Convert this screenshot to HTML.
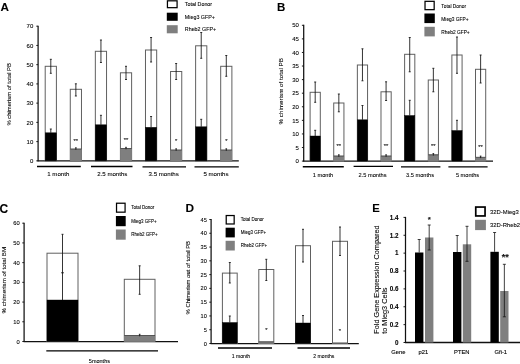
<!DOCTYPE html>
<html><head><meta charset="utf-8"><title>Figure</title>
<style>
html,body{margin:0;padding:0;background:#fff;}
body{width:520px;height:364px;overflow:hidden;font-family:"Liberation Sans",sans-serif;}
svg{display:block;font-family:"Liberation Sans",sans-serif;filter:blur(0.3px);}
</style></head>
<body>
<svg width="520" height="364" viewBox="0 0 520 364">
<rect x="0" y="0" width="520" height="364" fill="#fff"/>
<line x1="38.10" y1="25.70" x2="38.10" y2="161.35" stroke="#111" stroke-width="1.25"/>
<line x1="36.30" y1="160.85" x2="38.10" y2="160.85" stroke="#111" stroke-width="0.95"/>
<line x1="36.30" y1="141.61" x2="38.10" y2="141.61" stroke="#111" stroke-width="0.95"/>
<line x1="36.30" y1="122.38" x2="38.10" y2="122.38" stroke="#111" stroke-width="0.95"/>
<line x1="36.30" y1="103.14" x2="38.10" y2="103.14" stroke="#111" stroke-width="0.95"/>
<line x1="36.30" y1="83.91" x2="38.10" y2="83.91" stroke="#111" stroke-width="0.95"/>
<line x1="36.30" y1="64.67" x2="38.10" y2="64.67" stroke="#111" stroke-width="0.95"/>
<line x1="36.30" y1="45.44" x2="38.10" y2="45.44" stroke="#111" stroke-width="0.95"/>
<line x1="36.30" y1="26.20" x2="38.10" y2="26.20" stroke="#111" stroke-width="0.95"/>
<line x1="37.60" y1="160.85" x2="238.80" y2="160.85" stroke="#111" stroke-width="1.3"/>
<rect x="45.20" y="66.30" width="11.20" height="94.55" fill="#fff" stroke="#606060" stroke-width="1.0"/>
<rect x="45.20" y="132.80" width="11.20" height="28.05" fill="#000" stroke="#000" stroke-width="0.4"/>
<line x1="50.80" y1="59.30" x2="50.80" y2="73.30" stroke="#111" stroke-width="0.85"/>
<line x1="49.80" y1="59.30" x2="51.80" y2="59.30" stroke="#111" stroke-width="0.85"/>
<line x1="49.80" y1="73.30" x2="51.80" y2="73.30" stroke="#111" stroke-width="0.85"/>
<line x1="50.80" y1="129.00" x2="50.80" y2="132.80" stroke="#111" stroke-width="0.85"/>
<line x1="49.80" y1="129.00" x2="51.80" y2="129.00" stroke="#111" stroke-width="0.85"/>
<rect x="70.27" y="89.30" width="11.20" height="71.55" fill="#fff" stroke="#606060" stroke-width="1.0"/>
<rect x="70.27" y="149.00" width="11.20" height="11.85" fill="#7f7f7f" stroke="#7f7f7f" stroke-width="0.4"/>
<line x1="70.27" y1="149.00" x2="81.47" y2="149.00" stroke="#333" stroke-width="0.7"/>
<line x1="75.87" y1="83.80" x2="75.87" y2="96.00" stroke="#111" stroke-width="0.85"/>
<line x1="74.87" y1="83.80" x2="76.87" y2="83.80" stroke="#111" stroke-width="0.85"/>
<line x1="74.87" y1="96.00" x2="76.87" y2="96.00" stroke="#111" stroke-width="0.85"/>
<line x1="75.87" y1="147.80" x2="75.87" y2="149.80" stroke="#111" stroke-width="0.85"/>
<line x1="75.07" y1="147.80" x2="76.67" y2="147.80" stroke="#111" stroke-width="0.85"/>
<rect x="95.34" y="51.30" width="11.20" height="109.55" fill="#fff" stroke="#606060" stroke-width="1.0"/>
<rect x="95.34" y="124.80" width="11.20" height="36.05" fill="#000" stroke="#000" stroke-width="0.4"/>
<line x1="100.94" y1="40.00" x2="100.94" y2="62.50" stroke="#111" stroke-width="0.85"/>
<line x1="99.94" y1="40.00" x2="101.94" y2="40.00" stroke="#111" stroke-width="0.85"/>
<line x1="99.94" y1="62.50" x2="101.94" y2="62.50" stroke="#111" stroke-width="0.85"/>
<line x1="100.94" y1="115.30" x2="100.94" y2="124.80" stroke="#111" stroke-width="0.85"/>
<line x1="99.94" y1="115.30" x2="101.94" y2="115.30" stroke="#111" stroke-width="0.85"/>
<rect x="120.41" y="72.80" width="11.20" height="88.05" fill="#fff" stroke="#606060" stroke-width="1.0"/>
<rect x="120.41" y="148.50" width="11.20" height="12.35" fill="#7f7f7f" stroke="#7f7f7f" stroke-width="0.4"/>
<line x1="120.41" y1="148.50" x2="131.61" y2="148.50" stroke="#333" stroke-width="0.7"/>
<line x1="126.01" y1="66.30" x2="126.01" y2="79.50" stroke="#111" stroke-width="0.85"/>
<line x1="125.01" y1="66.30" x2="127.01" y2="66.30" stroke="#111" stroke-width="0.85"/>
<line x1="125.01" y1="79.50" x2="127.01" y2="79.50" stroke="#111" stroke-width="0.85"/>
<line x1="126.01" y1="147.30" x2="126.01" y2="149.30" stroke="#111" stroke-width="0.85"/>
<line x1="125.21" y1="147.30" x2="126.81" y2="147.30" stroke="#111" stroke-width="0.85"/>
<rect x="145.48" y="50.00" width="11.20" height="110.85" fill="#fff" stroke="#606060" stroke-width="1.0"/>
<rect x="145.48" y="127.30" width="11.20" height="33.55" fill="#000" stroke="#000" stroke-width="0.4"/>
<line x1="151.08" y1="37.50" x2="151.08" y2="62.00" stroke="#111" stroke-width="0.85"/>
<line x1="150.08" y1="37.50" x2="152.08" y2="37.50" stroke="#111" stroke-width="0.85"/>
<line x1="150.08" y1="62.00" x2="152.08" y2="62.00" stroke="#111" stroke-width="0.85"/>
<line x1="151.08" y1="116.50" x2="151.08" y2="127.30" stroke="#111" stroke-width="0.85"/>
<line x1="150.08" y1="116.50" x2="152.08" y2="116.50" stroke="#111" stroke-width="0.85"/>
<rect x="170.55" y="71.50" width="11.20" height="89.35" fill="#fff" stroke="#606060" stroke-width="1.0"/>
<rect x="170.55" y="150.00" width="11.20" height="10.85" fill="#7f7f7f" stroke="#7f7f7f" stroke-width="0.4"/>
<line x1="170.55" y1="150.00" x2="181.75" y2="150.00" stroke="#333" stroke-width="0.7"/>
<line x1="176.15" y1="63.50" x2="176.15" y2="79.50" stroke="#111" stroke-width="0.85"/>
<line x1="175.15" y1="63.50" x2="177.15" y2="63.50" stroke="#111" stroke-width="0.85"/>
<line x1="175.15" y1="79.50" x2="177.15" y2="79.50" stroke="#111" stroke-width="0.85"/>
<line x1="176.15" y1="148.80" x2="176.15" y2="150.80" stroke="#111" stroke-width="0.85"/>
<line x1="175.35" y1="148.80" x2="176.95" y2="148.80" stroke="#111" stroke-width="0.85"/>
<rect x="195.62" y="45.80" width="11.20" height="115.05" fill="#fff" stroke="#606060" stroke-width="1.0"/>
<rect x="195.62" y="126.80" width="11.20" height="34.05" fill="#000" stroke="#000" stroke-width="0.4"/>
<line x1="201.22" y1="32.50" x2="201.22" y2="58.30" stroke="#111" stroke-width="0.85"/>
<line x1="200.22" y1="32.50" x2="202.22" y2="32.50" stroke="#111" stroke-width="0.85"/>
<line x1="200.22" y1="58.30" x2="202.22" y2="58.30" stroke="#111" stroke-width="0.85"/>
<line x1="201.22" y1="119.30" x2="201.22" y2="126.80" stroke="#111" stroke-width="0.85"/>
<line x1="200.22" y1="119.30" x2="202.22" y2="119.30" stroke="#111" stroke-width="0.85"/>
<rect x="220.69" y="66.30" width="11.20" height="94.55" fill="#fff" stroke="#606060" stroke-width="1.0"/>
<rect x="220.69" y="150.00" width="11.20" height="10.85" fill="#7f7f7f" stroke="#7f7f7f" stroke-width="0.4"/>
<line x1="220.69" y1="150.00" x2="231.89" y2="150.00" stroke="#333" stroke-width="0.7"/>
<line x1="226.29" y1="55.50" x2="226.29" y2="76.30" stroke="#111" stroke-width="0.85"/>
<line x1="225.29" y1="55.50" x2="227.29" y2="55.50" stroke="#111" stroke-width="0.85"/>
<line x1="225.29" y1="76.30" x2="227.29" y2="76.30" stroke="#111" stroke-width="0.85"/>
<line x1="226.29" y1="148.80" x2="226.29" y2="150.80" stroke="#111" stroke-width="0.85"/>
<line x1="225.49" y1="148.80" x2="227.09" y2="148.80" stroke="#111" stroke-width="0.85"/>
<line x1="37.00" y1="166.50" x2="80.80" y2="166.50" stroke="#000" stroke-width="1.35"/>
<line x1="91.00" y1="166.50" x2="132.50" y2="166.50" stroke="#000" stroke-width="1.35"/>
<line x1="142.50" y1="166.80" x2="186.00" y2="166.80" stroke="#000" stroke-width="1.35"/>
<line x1="194.50" y1="166.80" x2="238.80" y2="166.80" stroke="#000" stroke-width="1.35"/>
<rect x="167.43" y="0.82" width="9.65" height="6.85" fill="#fff" stroke="#000" stroke-width="1.25"/>
<rect x="166.80" y="12.70" width="10.90" height="8.10" fill="#000" stroke="none" stroke-width="0.8"/>
<rect x="166.80" y="25.20" width="10.90" height="8.10" fill="#7f7f7f" stroke="none" stroke-width="0.8"/>
<line x1="303.70" y1="24.80" x2="303.70" y2="161.60" stroke="#111" stroke-width="1.25"/>
<line x1="301.90" y1="161.10" x2="303.70" y2="161.10" stroke="#111" stroke-width="0.95"/>
<line x1="301.90" y1="147.52" x2="303.70" y2="147.52" stroke="#111" stroke-width="0.95"/>
<line x1="301.90" y1="133.94" x2="303.70" y2="133.94" stroke="#111" stroke-width="0.95"/>
<line x1="301.90" y1="120.36" x2="303.70" y2="120.36" stroke="#111" stroke-width="0.95"/>
<line x1="301.90" y1="106.78" x2="303.70" y2="106.78" stroke="#111" stroke-width="0.95"/>
<line x1="301.90" y1="93.20" x2="303.70" y2="93.20" stroke="#111" stroke-width="0.95"/>
<line x1="301.90" y1="79.62" x2="303.70" y2="79.62" stroke="#111" stroke-width="0.95"/>
<line x1="301.90" y1="66.04" x2="303.70" y2="66.04" stroke="#111" stroke-width="0.95"/>
<line x1="301.90" y1="52.46" x2="303.70" y2="52.46" stroke="#111" stroke-width="0.95"/>
<line x1="301.90" y1="38.88" x2="303.70" y2="38.88" stroke="#111" stroke-width="0.95"/>
<line x1="301.90" y1="25.30" x2="303.70" y2="25.30" stroke="#111" stroke-width="0.95"/>
<line x1="303.20" y1="161.10" x2="493.00" y2="161.10" stroke="#111" stroke-width="1.3"/>
<rect x="310.10" y="92.30" width="10.20" height="68.80" fill="#fff" stroke="#606060" stroke-width="1.0"/>
<rect x="310.10" y="136.00" width="10.20" height="25.10" fill="#000" stroke="#000" stroke-width="0.4"/>
<line x1="315.20" y1="82.00" x2="315.20" y2="102.30" stroke="#111" stroke-width="0.85"/>
<line x1="314.20" y1="82.00" x2="316.20" y2="82.00" stroke="#111" stroke-width="0.85"/>
<line x1="314.20" y1="102.30" x2="316.20" y2="102.30" stroke="#111" stroke-width="0.85"/>
<line x1="315.20" y1="130.30" x2="315.20" y2="136.00" stroke="#111" stroke-width="0.85"/>
<line x1="314.20" y1="130.30" x2="316.20" y2="130.30" stroke="#111" stroke-width="0.85"/>
<rect x="333.73" y="103.00" width="10.20" height="58.10" fill="#fff" stroke="#606060" stroke-width="1.0"/>
<rect x="333.73" y="156.00" width="10.20" height="5.10" fill="#7f7f7f" stroke="#7f7f7f" stroke-width="0.4"/>
<line x1="333.73" y1="156.00" x2="343.93" y2="156.00" stroke="#333" stroke-width="0.7"/>
<line x1="338.83" y1="94.00" x2="338.83" y2="111.80" stroke="#111" stroke-width="0.85"/>
<line x1="337.83" y1="94.00" x2="339.83" y2="94.00" stroke="#111" stroke-width="0.85"/>
<line x1="337.83" y1="111.80" x2="339.83" y2="111.80" stroke="#111" stroke-width="0.85"/>
<line x1="338.83" y1="154.80" x2="338.83" y2="156.80" stroke="#111" stroke-width="0.85"/>
<line x1="338.03" y1="154.80" x2="339.63" y2="154.80" stroke="#111" stroke-width="0.85"/>
<rect x="357.36" y="65.00" width="10.20" height="96.10" fill="#fff" stroke="#606060" stroke-width="1.0"/>
<rect x="357.36" y="119.80" width="10.20" height="41.30" fill="#000" stroke="#000" stroke-width="0.4"/>
<line x1="362.46" y1="48.80" x2="362.46" y2="80.80" stroke="#111" stroke-width="0.85"/>
<line x1="361.46" y1="48.80" x2="363.46" y2="48.80" stroke="#111" stroke-width="0.85"/>
<line x1="361.46" y1="80.80" x2="363.46" y2="80.80" stroke="#111" stroke-width="0.85"/>
<line x1="362.46" y1="105.50" x2="362.46" y2="119.80" stroke="#111" stroke-width="0.85"/>
<line x1="361.46" y1="105.50" x2="363.46" y2="105.50" stroke="#111" stroke-width="0.85"/>
<rect x="380.99" y="91.80" width="10.20" height="69.30" fill="#fff" stroke="#606060" stroke-width="1.0"/>
<rect x="380.99" y="156.00" width="10.20" height="5.10" fill="#7f7f7f" stroke="#7f7f7f" stroke-width="0.4"/>
<line x1="380.99" y1="156.00" x2="391.19" y2="156.00" stroke="#333" stroke-width="0.7"/>
<line x1="386.09" y1="81.80" x2="386.09" y2="100.50" stroke="#111" stroke-width="0.85"/>
<line x1="385.09" y1="81.80" x2="387.09" y2="81.80" stroke="#111" stroke-width="0.85"/>
<line x1="385.09" y1="100.50" x2="387.09" y2="100.50" stroke="#111" stroke-width="0.85"/>
<line x1="386.09" y1="154.80" x2="386.09" y2="156.80" stroke="#111" stroke-width="0.85"/>
<line x1="385.29" y1="154.80" x2="386.89" y2="154.80" stroke="#111" stroke-width="0.85"/>
<rect x="404.62" y="54.30" width="10.20" height="106.80" fill="#fff" stroke="#606060" stroke-width="1.0"/>
<rect x="404.62" y="115.50" width="10.20" height="45.60" fill="#000" stroke="#000" stroke-width="0.4"/>
<line x1="409.72" y1="37.50" x2="409.72" y2="71.80" stroke="#111" stroke-width="0.85"/>
<line x1="408.72" y1="37.50" x2="410.72" y2="37.50" stroke="#111" stroke-width="0.85"/>
<line x1="408.72" y1="71.80" x2="410.72" y2="71.80" stroke="#111" stroke-width="0.85"/>
<line x1="409.72" y1="100.30" x2="409.72" y2="115.50" stroke="#111" stroke-width="0.85"/>
<line x1="408.72" y1="100.30" x2="410.72" y2="100.30" stroke="#111" stroke-width="0.85"/>
<rect x="428.25" y="80.00" width="10.20" height="81.10" fill="#fff" stroke="#606060" stroke-width="1.0"/>
<rect x="428.25" y="154.80" width="10.20" height="6.30" fill="#7f7f7f" stroke="#7f7f7f" stroke-width="0.4"/>
<line x1="428.25" y1="154.80" x2="438.45" y2="154.80" stroke="#333" stroke-width="0.7"/>
<line x1="433.35" y1="68.30" x2="433.35" y2="91.80" stroke="#111" stroke-width="0.85"/>
<line x1="432.35" y1="68.30" x2="434.35" y2="68.30" stroke="#111" stroke-width="0.85"/>
<line x1="432.35" y1="91.80" x2="434.35" y2="91.80" stroke="#111" stroke-width="0.85"/>
<line x1="433.35" y1="153.60" x2="433.35" y2="155.60" stroke="#111" stroke-width="0.85"/>
<line x1="432.55" y1="153.60" x2="434.15" y2="153.60" stroke="#111" stroke-width="0.85"/>
<rect x="451.88" y="55.00" width="10.20" height="106.10" fill="#fff" stroke="#606060" stroke-width="1.0"/>
<rect x="451.88" y="130.50" width="10.20" height="30.60" fill="#000" stroke="#000" stroke-width="0.4"/>
<line x1="456.98" y1="37.00" x2="456.98" y2="73.30" stroke="#111" stroke-width="0.85"/>
<line x1="455.98" y1="37.00" x2="457.98" y2="37.00" stroke="#111" stroke-width="0.85"/>
<line x1="455.98" y1="73.30" x2="457.98" y2="73.30" stroke="#111" stroke-width="0.85"/>
<line x1="456.98" y1="120.30" x2="456.98" y2="130.50" stroke="#111" stroke-width="0.85"/>
<line x1="455.98" y1="120.30" x2="457.98" y2="120.30" stroke="#111" stroke-width="0.85"/>
<rect x="475.51" y="69.30" width="10.20" height="91.80" fill="#fff" stroke="#606060" stroke-width="1.0"/>
<rect x="475.51" y="157.30" width="10.20" height="3.80" fill="#7f7f7f" stroke="#7f7f7f" stroke-width="0.4"/>
<line x1="475.51" y1="157.30" x2="485.71" y2="157.30" stroke="#333" stroke-width="0.7"/>
<line x1="480.61" y1="55.00" x2="480.61" y2="83.00" stroke="#111" stroke-width="0.85"/>
<line x1="479.61" y1="55.00" x2="481.61" y2="55.00" stroke="#111" stroke-width="0.85"/>
<line x1="479.61" y1="83.00" x2="481.61" y2="83.00" stroke="#111" stroke-width="0.85"/>
<line x1="480.61" y1="156.10" x2="480.61" y2="158.10" stroke="#111" stroke-width="0.85"/>
<line x1="479.81" y1="156.10" x2="481.41" y2="156.10" stroke="#111" stroke-width="0.85"/>
<line x1="302.80" y1="166.70" x2="343.80" y2="166.70" stroke="#000" stroke-width="1.35"/>
<line x1="353.60" y1="166.40" x2="393.00" y2="166.40" stroke="#000" stroke-width="1.35"/>
<line x1="401.00" y1="166.90" x2="440.40" y2="166.90" stroke="#000" stroke-width="1.35"/>
<line x1="448.40" y1="166.90" x2="487.60" y2="166.90" stroke="#000" stroke-width="1.35"/>
<rect x="425.02" y="1.32" width="9.15" height="8.35" fill="#fff" stroke="#000" stroke-width="1.25"/>
<rect x="424.40" y="13.50" width="10.40" height="9.60" fill="#000" stroke="none" stroke-width="0.8"/>
<rect x="424.40" y="26.80" width="10.40" height="9.60" fill="#7f7f7f" stroke="none" stroke-width="0.8"/>
<line x1="24.10" y1="222.70" x2="24.10" y2="342.00" stroke="#111" stroke-width="1.25"/>
<line x1="22.30" y1="341.50" x2="24.10" y2="341.50" stroke="#111" stroke-width="0.95"/>
<line x1="22.30" y1="321.78" x2="24.10" y2="321.78" stroke="#111" stroke-width="0.95"/>
<line x1="22.30" y1="302.07" x2="24.10" y2="302.07" stroke="#111" stroke-width="0.95"/>
<line x1="22.30" y1="282.35" x2="24.10" y2="282.35" stroke="#111" stroke-width="0.95"/>
<line x1="22.30" y1="262.63" x2="24.10" y2="262.63" stroke="#111" stroke-width="0.95"/>
<line x1="22.30" y1="242.92" x2="24.10" y2="242.92" stroke="#111" stroke-width="0.95"/>
<line x1="22.30" y1="223.20" x2="24.10" y2="223.20" stroke="#111" stroke-width="0.95"/>
<line x1="23.60" y1="341.50" x2="178.00" y2="341.50" stroke="#111" stroke-width="1.25"/>
<rect x="47.00" y="253.20" width="31.00" height="88.30" fill="#fff" stroke="#606060" stroke-width="1.0"/>
<rect x="47.00" y="300.00" width="31.00" height="41.50" fill="#000" stroke="#000" stroke-width="0.4"/>
<line x1="62.50" y1="234.30" x2="62.50" y2="272.50" stroke="#111" stroke-width="0.85"/>
<line x1="61.50" y1="234.30" x2="63.50" y2="234.30" stroke="#111" stroke-width="0.85"/>
<line x1="61.50" y1="272.50" x2="63.50" y2="272.50" stroke="#111" stroke-width="0.85"/>
<line x1="62.50" y1="273.00" x2="62.50" y2="300.00" stroke="#111" stroke-width="0.85"/>
<line x1="61.50" y1="273.00" x2="63.50" y2="273.00" stroke="#111" stroke-width="0.85"/>
<rect x="124.30" y="279.30" width="30.70" height="62.20" fill="#fff" stroke="#606060" stroke-width="1.0"/>
<rect x="124.30" y="335.50" width="30.70" height="6.00" fill="#7f7f7f" stroke="#7f7f7f" stroke-width="0.4"/>
<line x1="124.30" y1="335.50" x2="155.00" y2="335.50" stroke="#333" stroke-width="0.7"/>
<line x1="139.65" y1="265.80" x2="139.65" y2="294.30" stroke="#111" stroke-width="0.85"/>
<line x1="138.65" y1="265.80" x2="140.65" y2="265.80" stroke="#111" stroke-width="0.85"/>
<line x1="138.65" y1="294.30" x2="140.65" y2="294.30" stroke="#111" stroke-width="0.85"/>
<line x1="139.65" y1="334.30" x2="139.65" y2="336.30" stroke="#111" stroke-width="0.85"/>
<line x1="138.85" y1="334.30" x2="140.45" y2="334.30" stroke="#111" stroke-width="0.85"/>
<line x1="46.30" y1="350.80" x2="158.00" y2="350.80" stroke="#000" stroke-width="1.35"/>
<rect x="116.53" y="203.22" width="8.55" height="8.95" fill="#fff" stroke="#000" stroke-width="1.25"/>
<rect x="115.90" y="216.00" width="9.80" height="10.20" fill="#000" stroke="none" stroke-width="0.8"/>
<rect x="115.90" y="229.50" width="9.80" height="10.20" fill="#7f7f7f" stroke="none" stroke-width="0.8"/>
<line x1="211.10" y1="219.00" x2="211.10" y2="344.00" stroke="#111" stroke-width="1.25"/>
<line x1="209.30" y1="343.50" x2="211.10" y2="343.50" stroke="#111" stroke-width="0.95"/>
<line x1="209.30" y1="329.72" x2="211.10" y2="329.72" stroke="#111" stroke-width="0.95"/>
<line x1="209.30" y1="315.94" x2="211.10" y2="315.94" stroke="#111" stroke-width="0.95"/>
<line x1="209.30" y1="302.17" x2="211.10" y2="302.17" stroke="#111" stroke-width="0.95"/>
<line x1="209.30" y1="288.39" x2="211.10" y2="288.39" stroke="#111" stroke-width="0.95"/>
<line x1="209.30" y1="274.61" x2="211.10" y2="274.61" stroke="#111" stroke-width="0.95"/>
<line x1="209.30" y1="260.83" x2="211.10" y2="260.83" stroke="#111" stroke-width="0.95"/>
<line x1="209.30" y1="247.06" x2="211.10" y2="247.06" stroke="#111" stroke-width="0.95"/>
<line x1="209.30" y1="233.28" x2="211.10" y2="233.28" stroke="#111" stroke-width="0.95"/>
<line x1="209.30" y1="219.50" x2="211.10" y2="219.50" stroke="#111" stroke-width="0.95"/>
<line x1="210.60" y1="343.50" x2="358.80" y2="343.50" stroke="#111" stroke-width="1.25"/>
<rect x="222.40" y="273.10" width="14.80" height="70.40" fill="#fff" stroke="#606060" stroke-width="1.0"/>
<rect x="222.40" y="322.50" width="14.80" height="21.00" fill="#000" stroke="#000" stroke-width="0.4"/>
<line x1="229.80" y1="262.50" x2="229.80" y2="283.00" stroke="#111" stroke-width="0.85"/>
<line x1="228.80" y1="262.50" x2="230.80" y2="262.50" stroke="#111" stroke-width="0.85"/>
<line x1="228.80" y1="283.00" x2="230.80" y2="283.00" stroke="#111" stroke-width="0.85"/>
<line x1="229.80" y1="316.00" x2="229.80" y2="322.50" stroke="#111" stroke-width="0.85"/>
<line x1="228.80" y1="316.00" x2="230.80" y2="316.00" stroke="#111" stroke-width="0.85"/>
<rect x="258.80" y="269.50" width="15.00" height="74.00" fill="#fff" stroke="#606060" stroke-width="1.0"/>
<rect x="258.80" y="341.80" width="15.00" height="1.70" fill="#7f7f7f" stroke="#7f7f7f" stroke-width="0.4"/>
<line x1="258.80" y1="341.80" x2="273.80" y2="341.80" stroke="#333" stroke-width="0.7"/>
<line x1="266.30" y1="259.30" x2="266.30" y2="280.50" stroke="#111" stroke-width="0.85"/>
<line x1="265.30" y1="259.30" x2="267.30" y2="259.30" stroke="#111" stroke-width="0.85"/>
<line x1="265.30" y1="280.50" x2="267.30" y2="280.50" stroke="#111" stroke-width="0.85"/>
<rect x="295.50" y="245.70" width="15.00" height="97.80" fill="#fff" stroke="#606060" stroke-width="1.0"/>
<rect x="295.50" y="323.00" width="15.00" height="20.50" fill="#000" stroke="#000" stroke-width="0.4"/>
<line x1="303.00" y1="229.30" x2="303.00" y2="262.00" stroke="#111" stroke-width="0.85"/>
<line x1="302.00" y1="229.30" x2="304.00" y2="229.30" stroke="#111" stroke-width="0.85"/>
<line x1="302.00" y1="262.00" x2="304.00" y2="262.00" stroke="#111" stroke-width="0.85"/>
<line x1="303.00" y1="315.50" x2="303.00" y2="323.00" stroke="#111" stroke-width="0.85"/>
<line x1="302.00" y1="315.50" x2="304.00" y2="315.50" stroke="#111" stroke-width="0.85"/>
<rect x="332.50" y="241.30" width="15.00" height="102.20" fill="#fff" stroke="#606060" stroke-width="1.0"/>
<rect x="332.50" y="343.00" width="15.00" height="0.50" fill="#7f7f7f" stroke="#7f7f7f" stroke-width="0.4"/>
<line x1="332.50" y1="343.00" x2="347.50" y2="343.00" stroke="#333" stroke-width="0.7"/>
<line x1="340.00" y1="227.00" x2="340.00" y2="255.50" stroke="#111" stroke-width="0.85"/>
<line x1="339.00" y1="227.00" x2="341.00" y2="227.00" stroke="#111" stroke-width="0.85"/>
<line x1="339.00" y1="255.50" x2="341.00" y2="255.50" stroke="#111" stroke-width="0.85"/>
<line x1="218.00" y1="348.00" x2="272.00" y2="348.00" stroke="#000" stroke-width="1.5"/>
<line x1="297.50" y1="348.00" x2="350.00" y2="348.00" stroke="#000" stroke-width="1.5"/>
<rect x="226.22" y="215.53" width="7.95" height="8.45" fill="#fff" stroke="#000" stroke-width="1.25"/>
<rect x="225.60" y="227.70" width="9.20" height="9.70" fill="#000" stroke="none" stroke-width="0.8"/>
<rect x="225.60" y="240.80" width="9.20" height="9.70" fill="#7f7f7f" stroke="none" stroke-width="0.8"/>
<line x1="405.50" y1="216.90" x2="405.50" y2="343.00" stroke="#111" stroke-width="1.25"/>
<line x1="403.50" y1="342.50" x2="405.50" y2="342.50" stroke="#111" stroke-width="0.95"/>
<line x1="403.50" y1="324.63" x2="405.50" y2="324.63" stroke="#111" stroke-width="0.95"/>
<line x1="403.50" y1="306.76" x2="405.50" y2="306.76" stroke="#111" stroke-width="0.95"/>
<line x1="403.50" y1="288.89" x2="405.50" y2="288.89" stroke="#111" stroke-width="0.95"/>
<line x1="403.50" y1="271.01" x2="405.50" y2="271.01" stroke="#111" stroke-width="0.95"/>
<line x1="403.50" y1="253.14" x2="405.50" y2="253.14" stroke="#111" stroke-width="0.95"/>
<line x1="403.50" y1="235.27" x2="405.50" y2="235.27" stroke="#111" stroke-width="0.95"/>
<line x1="403.50" y1="217.40" x2="405.50" y2="217.40" stroke="#111" stroke-width="0.95"/>
<line x1="405.00" y1="342.50" x2="520.00" y2="342.50" stroke="#111" stroke-width="1.3"/>
<rect x="415.00" y="252.50" width="8.40" height="90.00" fill="#000" stroke="none" stroke-width="0.8"/>
<line x1="419.20" y1="239.50" x2="419.20" y2="252.50" stroke="#111" stroke-width="0.8"/>
<line x1="417.70" y1="239.50" x2="420.70" y2="239.50" stroke="#111" stroke-width="0.8"/>
<rect x="425.00" y="237.50" width="8.40" height="105.00" fill="#7f7f7f" stroke="none" stroke-width="0.8"/>
<line x1="429.20" y1="225.00" x2="429.20" y2="250.00" stroke="#111" stroke-width="0.8"/>
<line x1="427.70" y1="225.00" x2="430.70" y2="225.00" stroke="#111" stroke-width="0.8"/>
<line x1="427.70" y1="250.00" x2="430.70" y2="250.00" stroke="#111" stroke-width="0.8"/>
<rect x="453.00" y="252.00" width="8.40" height="90.50" fill="#000" stroke="none" stroke-width="0.8"/>
<line x1="457.20" y1="235.50" x2="457.20" y2="252.00" stroke="#111" stroke-width="0.8"/>
<line x1="455.70" y1="235.50" x2="458.70" y2="235.50" stroke="#111" stroke-width="0.8"/>
<rect x="462.80" y="244.30" width="8.40" height="98.20" fill="#7f7f7f" stroke="none" stroke-width="0.8"/>
<line x1="467.00" y1="226.30" x2="467.00" y2="261.30" stroke="#111" stroke-width="0.8"/>
<line x1="465.50" y1="226.30" x2="468.50" y2="226.30" stroke="#111" stroke-width="0.8"/>
<line x1="465.50" y1="261.30" x2="468.50" y2="261.30" stroke="#111" stroke-width="0.8"/>
<rect x="490.40" y="251.80" width="8.40" height="90.70" fill="#000" stroke="none" stroke-width="0.8"/>
<line x1="494.60" y1="232.50" x2="494.60" y2="251.80" stroke="#111" stroke-width="0.8"/>
<line x1="493.10" y1="232.50" x2="496.10" y2="232.50" stroke="#111" stroke-width="0.8"/>
<rect x="500.20" y="291.00" width="8.30" height="51.50" fill="#7f7f7f" stroke="none" stroke-width="0.8"/>
<line x1="504.35" y1="264.30" x2="504.35" y2="316.80" stroke="#111" stroke-width="0.8"/>
<line x1="502.85" y1="264.30" x2="505.85" y2="264.30" stroke="#111" stroke-width="0.8"/>
<line x1="502.85" y1="316.80" x2="505.85" y2="316.80" stroke="#111" stroke-width="0.8"/>
<rect x="475.75" y="207.05" width="9.30" height="8.90" fill="#fff" stroke="#000" stroke-width="1.7"/>
<rect x="475.10" y="219.80" width="10.80" height="10.30" fill="#7f7f7f" stroke="none" stroke-width="0.8"/>
<g style="filter:blur(0.15px)" stroke="#000" stroke-width="0.09">
<text x="0.6" y="11.1" font-size="11.7" text-anchor="start" font-weight="bold" fill="#000">A</text>
<text x="33.3" y="163.01" font-size="6.0" text-anchor="end" font-weight="normal" fill="#000">0</text>
<text x="33.3" y="143.77" font-size="6.0" text-anchor="end" font-weight="normal" fill="#000">10</text>
<text x="33.3" y="124.54" font-size="6.0" text-anchor="end" font-weight="normal" fill="#000">20</text>
<text x="33.3" y="105.3" font-size="6.0" text-anchor="end" font-weight="normal" fill="#000">30</text>
<text x="33.3" y="86.07" font-size="6.0" text-anchor="end" font-weight="normal" fill="#000">40</text>
<text x="33.3" y="66.83" font-size="6.0" text-anchor="end" font-weight="normal" fill="#000">50</text>
<text x="33.3" y="47.6" font-size="6.0" text-anchor="end" font-weight="normal" fill="#000">60</text>
<text x="33.3" y="28.36" font-size="6.0" text-anchor="end" font-weight="normal" fill="#000">70</text>
<text x="10.6" y="94.3" font-size="5.9" text-anchor="middle" font-weight="normal" fill="#000" transform="rotate(-90 10.6 94.3)">% chimerism of total PB</text>
<text x="75.87" y="143.2" font-size="5.8" text-anchor="middle" font-weight="normal" fill="#111">**</text>
<text x="126.01" y="141.8" font-size="5.8" text-anchor="middle" font-weight="normal" fill="#111">**</text>
<text x="176.15" y="142.6" font-size="5.8" text-anchor="middle" font-weight="normal" fill="#111">*</text>
<text x="226.29" y="142.6" font-size="5.8" text-anchor="middle" font-weight="normal" fill="#111">*</text>
<text x="58.3" y="176.3" font-size="6.1" text-anchor="middle" font-weight="normal" fill="#000">1 month</text>
<text x="112.3" y="176.3" font-size="6.1" text-anchor="middle" font-weight="normal" fill="#000">2.5 months</text>
<text x="163.7" y="176.3" font-size="6.1" text-anchor="middle" font-weight="normal" fill="#000">3.5 months</text>
<text x="216" y="176.3" font-size="6.1" text-anchor="middle" font-weight="normal" fill="#000">5 months</text>
<text x="184.8" y="6.18" font-size="5.35" text-anchor="start" font-weight="normal" fill="#000">Total Donor</text>
<text x="184.8" y="18.68" font-size="5.35" text-anchor="start" font-weight="normal" fill="#000">Mieg3 GFP+</text>
<text x="184.8" y="31.18" font-size="5.35" text-anchor="start" font-weight="normal" fill="#000">Rheb2 GFP+</text>
<text x="276.9" y="11.1" font-size="11.5" text-anchor="start" font-weight="bold" fill="#000">B</text>
<text x="298.9" y="163.26" font-size="6.0" text-anchor="end" font-weight="normal" fill="#000">0</text>
<text x="298.9" y="149.68" font-size="6.0" text-anchor="end" font-weight="normal" fill="#000">5</text>
<text x="298.9" y="136.1" font-size="6.0" text-anchor="end" font-weight="normal" fill="#000">10</text>
<text x="298.9" y="122.52" font-size="6.0" text-anchor="end" font-weight="normal" fill="#000">15</text>
<text x="298.9" y="108.94" font-size="6.0" text-anchor="end" font-weight="normal" fill="#000">20</text>
<text x="298.9" y="95.36" font-size="6.0" text-anchor="end" font-weight="normal" fill="#000">25</text>
<text x="298.9" y="81.78" font-size="6.0" text-anchor="end" font-weight="normal" fill="#000">30</text>
<text x="298.9" y="68.2" font-size="6.0" text-anchor="end" font-weight="normal" fill="#000">35</text>
<text x="298.9" y="54.62" font-size="6.0" text-anchor="end" font-weight="normal" fill="#000">40</text>
<text x="298.9" y="41.04" font-size="6.0" text-anchor="end" font-weight="normal" fill="#000">45</text>
<text x="298.9" y="27.46" font-size="6.0" text-anchor="end" font-weight="normal" fill="#000">50</text>
<text x="283.1" y="91.25" font-size="6.25" text-anchor="middle" font-weight="normal" fill="#000" transform="rotate(-90 283.1 91.25)">% chimerism of  total PB</text>
<text x="338.83" y="148.0" font-size="5.8" text-anchor="middle" font-weight="normal" fill="#111">**</text>
<text x="386.09" y="148.0" font-size="5.8" text-anchor="middle" font-weight="normal" fill="#111">**</text>
<text x="433.35" y="148.0" font-size="5.8" text-anchor="middle" font-weight="normal" fill="#111">**</text>
<text x="480.61" y="148.7" font-size="5.8" text-anchor="middle" font-weight="normal" fill="#111">**</text>
<text x="323" y="176.7" font-size="5.65" text-anchor="middle" font-weight="normal" fill="#000">1 month</text>
<text x="372.5" y="176.7" font-size="5.65" text-anchor="middle" font-weight="normal" fill="#000">2.5 months</text>
<text x="420" y="176.7" font-size="5.65" text-anchor="middle" font-weight="normal" fill="#000">3.5 months</text>
<text x="467.5" y="176.7" font-size="5.65" text-anchor="middle" font-weight="normal" fill="#000">5 months</text>
<text x="441.3" y="7.75" font-size="4.85" text-anchor="start" font-weight="normal" fill="#000">Total Donor</text>
<text x="441.3" y="20.55" font-size="4.85" text-anchor="start" font-weight="normal" fill="#000">Mieg3 GFP+</text>
<text x="441.3" y="33.85" font-size="4.85" text-anchor="start" font-weight="normal" fill="#000">Rheb2 GFP+</text>
<text x="-0.6" y="212.7" font-size="12" text-anchor="start" font-weight="bold" fill="#000">C</text>
<text x="19.8" y="343.59" font-size="5.8" text-anchor="end" font-weight="normal" fill="#000">0</text>
<text x="19.8" y="323.87" font-size="5.8" text-anchor="end" font-weight="normal" fill="#000">10</text>
<text x="19.8" y="304.15" font-size="5.8" text-anchor="end" font-weight="normal" fill="#000">20</text>
<text x="19.8" y="284.44" font-size="5.8" text-anchor="end" font-weight="normal" fill="#000">30</text>
<text x="19.8" y="264.72" font-size="5.8" text-anchor="end" font-weight="normal" fill="#000">40</text>
<text x="19.8" y="245.0" font-size="5.8" text-anchor="end" font-weight="normal" fill="#000">50</text>
<text x="19.8" y="225.29" font-size="5.8" text-anchor="end" font-weight="normal" fill="#000">60</text>
<text x="5.6" y="280.2" font-size="6.2" text-anchor="middle" font-weight="normal" fill="#000" transform="rotate(-90 5.6 280.2)">% chimerism of total BM</text>
<text x="99.4" y="363.3" font-size="5.5" text-anchor="middle" font-weight="normal" fill="#000">5months</text>
<text x="131.3" y="209.32" font-size="4.5" text-anchor="start" font-weight="normal" fill="#000">Total Donor</text>
<text x="131.3" y="222.72" font-size="4.5" text-anchor="start" font-weight="normal" fill="#000">Mieg3 GFP+</text>
<text x="131.3" y="236.22" font-size="4.5" text-anchor="start" font-weight="normal" fill="#000">Rheb2 GFP+</text>
<text x="185.6" y="211.8" font-size="11.8" text-anchor="start" font-weight="bold" fill="#000">D</text>
<text x="206.8" y="345.52" font-size="5.6" text-anchor="end" font-weight="normal" fill="#000">0</text>
<text x="206.8" y="331.74" font-size="5.6" text-anchor="end" font-weight="normal" fill="#000">5</text>
<text x="206.8" y="317.96" font-size="5.6" text-anchor="end" font-weight="normal" fill="#000">10</text>
<text x="206.8" y="304.18" font-size="5.6" text-anchor="end" font-weight="normal" fill="#000">15</text>
<text x="206.8" y="290.4" font-size="5.6" text-anchor="end" font-weight="normal" fill="#000">20</text>
<text x="206.8" y="276.63" font-size="5.6" text-anchor="end" font-weight="normal" fill="#000">25</text>
<text x="206.8" y="262.85" font-size="5.6" text-anchor="end" font-weight="normal" fill="#000">30</text>
<text x="206.8" y="249.07" font-size="5.6" text-anchor="end" font-weight="normal" fill="#000">35</text>
<text x="206.8" y="235.29" font-size="5.6" text-anchor="end" font-weight="normal" fill="#000">40</text>
<text x="206.8" y="221.52" font-size="5.6" text-anchor="end" font-weight="normal" fill="#000">45</text>
<text x="190.4" y="277.7" font-size="5.88" text-anchor="middle" font-weight="normal" fill="#000" transform="rotate(-90 190.4 277.7)">% Chimerism out of total PB</text>
<text x="266.3" y="332.3" font-size="5.8" text-anchor="middle" font-weight="normal" fill="#111">*</text>
<text x="340.0" y="332.8" font-size="5.8" text-anchor="middle" font-weight="normal" fill="#111">*</text>
<text x="241" y="358.0" font-size="5.1" text-anchor="middle" font-weight="normal" fill="#000">1 month</text>
<text x="323.8" y="357.7" font-size="5.1" text-anchor="middle" font-weight="normal" fill="#000">2 months</text>
<text x="240.8" y="221.37" font-size="4.5" text-anchor="start" font-weight="normal" fill="#000">Total Donor</text>
<text x="240.8" y="234.17" font-size="4.5" text-anchor="start" font-weight="normal" fill="#000">Mieg3 GFP+</text>
<text x="240.8" y="247.27" font-size="4.5" text-anchor="start" font-weight="normal" fill="#000">Rheb2 GFP+</text>
<text x="372.3" y="212.0" font-size="11.3" text-anchor="start" font-weight="bold" fill="#000">E</text>
<text x="398.5" y="344.77" font-size="6.3" text-anchor="end" font-weight="bold" fill="#000">0</text>
<text x="398.5" y="326.9" font-size="6.3" text-anchor="end" font-weight="bold" fill="#000">0.2</text>
<text x="398.5" y="309.03" font-size="6.3" text-anchor="end" font-weight="bold" fill="#000">0.4</text>
<text x="398.5" y="291.15" font-size="6.3" text-anchor="end" font-weight="bold" fill="#000">0.6</text>
<text x="398.5" y="273.28" font-size="6.3" text-anchor="end" font-weight="bold" fill="#000">0.8</text>
<text x="398.5" y="255.41" font-size="6.3" text-anchor="end" font-weight="bold" fill="#000">1</text>
<text x="398.5" y="237.54" font-size="6.3" text-anchor="end" font-weight="bold" fill="#000">1.2</text>
<text x="398.5" y="219.67" font-size="6.3" text-anchor="end" font-weight="bold" fill="#000">1.4</text>
<text x="378.9" y="279.6" font-size="7.3" text-anchor="middle" font-weight="normal" fill="#000" transform="rotate(-90 378.9 279.6)">Fold Gene Expression Compared</text>
<text x="387.4" y="333.8" font-size="7.3" text-anchor="start" font-weight="normal" fill="#000" transform="rotate(-90 387.4 333.8)">to Mieg3 Cells</text>
<text x="429.3" y="221.6" font-size="8" text-anchor="middle" font-weight="bold" fill="#111">*</text>
<text x="505.3" y="260.0" font-size="9" text-anchor="middle" font-weight="bold" fill="#111">**</text>
<text x="391.3" y="354.2" font-size="5.8" text-anchor="start" font-weight="normal" fill="#000" stroke="#000" stroke-width="0.12">Gene</text>
<text x="423.3" y="354.2" font-size="5.8" text-anchor="middle" font-weight="normal" fill="#000" stroke="#000" stroke-width="0.12">p21</text>
<text x="461.8" y="354.2" font-size="5.8" text-anchor="middle" font-weight="normal" fill="#000" stroke="#000" stroke-width="0.12">PTEN</text>
<text x="500.8" y="354.2" font-size="5.8" text-anchor="middle" font-weight="normal" fill="#000" stroke="#000" stroke-width="0.12">Gfi-1</text>
<text x="490" y="213.82" font-size="5.9" text-anchor="start" font-weight="normal" fill="#000">32D-Mieg3</text>
<text x="490" y="227.47" font-size="5.9" text-anchor="start" font-weight="normal" fill="#000">32D-Rheb2</text>
</g>
</svg>
</body></html>
